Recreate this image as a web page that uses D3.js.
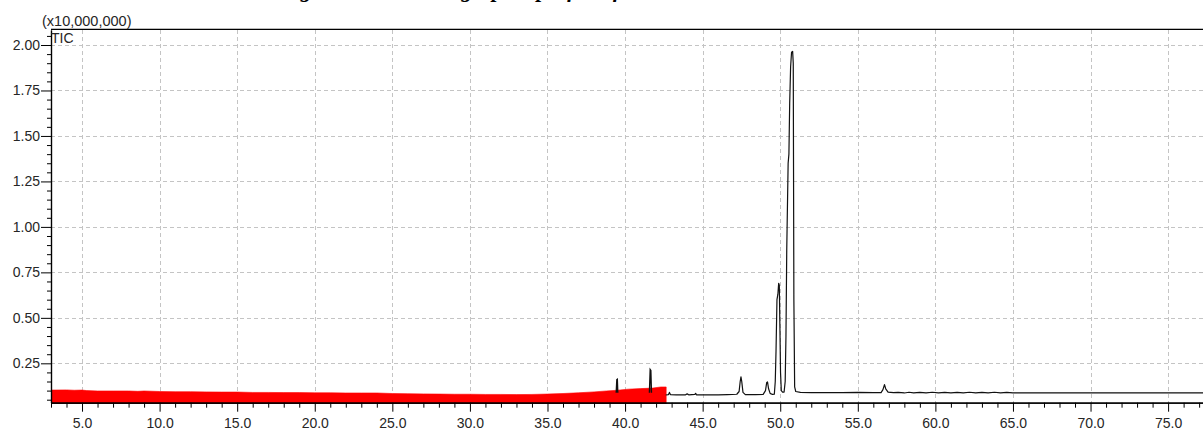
<!DOCTYPE html>
<html><head><meta charset="utf-8">
<script src="https://cdn.jsdelivr.net/npm/d3@7"></script>
<style>body{margin:0;background:#fff;overflow:hidden} svg{display:block}</style>
</head><body><svg id="c" width="1203" height="432"></svg>
<script>
// ---------- data ----------
const titleText = "Figure 1. Chromatographic profile of the extract";
const yMultiplier = "(x10,000,000)";
const seriesLabel = "TIC";
const xMajorTicks = [5,10,15,20,25,30,35,40,45,50,55,60,65,70,75];
const yMajorTicks = [0.25,0.5,0.75,1.0,1.25,1.5,1.75,2.0];

// red noisy trace (upper envelope), retention time (min) vs intensity (x10^7)
const redTime = [3.0,4.0,4.5,5.0,5.3,6.0,7.0,8.0,8.6,9.0,10,11,12,13,14,15,16,17,18,19,20,21,22,23,24,25,26,27,28,29,30,31,32,33,34,35,36,37,38,38.8,39.5,40.2,41.0,41.8,42.3,42.65];
const redTop  = [0.103,0.104,0.102,0.103,0.100,0.098,0.098,0.098,0.096,0.098,0.095,0.094,0.094,0.093,0.092,0.092,0.090,0.090,0.089,0.089,0.088,0.088,0.087,0.087,0.087,0.084,0.083,0.082,0.081,0.080,0.080,0.079,0.079,0.078,0.079,0.081,0.084,0.088,0.093,0.098,0.102,0.108,0.111,0.114,0.120,0.120];

// black TIC trace
const ticTime = [42.62,42.8,42.86,42.92,43.3,43.9,44.0,44.1,44.5,44.55,44.6,45.2,46.0,46.6,47.2,47.35,47.42,47.47,47.52,47.6,47.75,48.4,48.9,49.05,49.13,49.18,49.25,49.35,49.5,49.62,49.68,49.73,49.79,49.85,49.9,49.94,49.98,50.02,50.07,50.15,50.25,50.32,50.37,50.42,50.51,50.56,50.61,50.67,50.73,50.8,50.84,50.88,50.93,51.0,51.3,52,53,54,55,56,56.5,56.62,56.72,56.8,56.95,57.3,57.6,58.0,58.3,58.6,59.0,59.4,59.8,60.2,60.6,61.0,61.4,61.8,62.2,62.6,63.0,63.4,63.8,64.2,64.6,65.0,65.3,66,70,77.7];
const ticValue = [0.076,0.078,0.090,0.078,0.076,0.077,0.082,0.077,0.079,0.085,0.077,0.076,0.077,0.078,0.080,0.095,0.150,0.175,0.150,0.090,0.078,0.078,0.079,0.100,0.145,0.148,0.110,0.085,0.079,0.080,0.150,0.320,0.600,0.630,0.690,0.680,0.450,0.200,0.100,0.092,0.092,0.150,0.400,0.870,1.350,1.400,1.680,1.880,1.960,1.965,1.900,0.600,0.120,0.095,0.090,0.089,0.089,0.089,0.090,0.089,0.089,0.105,0.133,0.110,0.092,0.089,0.090,0.087,0.091,0.088,0.090,0.087,0.091,0.088,0.090,0.087,0.090,0.088,0.091,0.087,0.090,0.088,0.091,0.088,0.090,0.088,0.087,0.087,0.087,0.087];

// black spikes standing out of the red trace
const spikeATime = [39.43,39.47,39.50,39.53];
const spikeAValue = [0.088,0.160,0.162,0.088];
const spikeBTime = [41.57,41.62,41.66,41.70];
const spikeBValue = [0.088,0.215,0.210,0.088];

// ---------- layout ----------
const svg = d3.select("#c");
const L = 51, T = 30, B = 402.7, R = 1210;
const x = d3.scaleLinear().domain([3.0, 77.7]).range([L, R]);
const y = d3.scaleLinear().domain([0.0335, 2.0825]).range([B, T]);
const font = "'Liberation Sans', Arial, sans-serif";

// title (cropped at the top of the picture, as in the reference)
svg.append("text").attr("x", 280).attr("y", -3)
  .attr("font-family", "'Liberation Serif', 'Times New Roman', serif")
  .attr("font-weight", "bold").attr("font-style", "italic").attr("font-size", 22)
  .attr("fill", "#000").text(titleText);

svg.append("defs").append("clipPath").attr("id", "plot")
  .append("rect").attr("x", L).attr("y", T).attr("width", R - L).attr("height", B - T + 1.2);

// grid
const grid = svg.append("g").attr("stroke", "#c4c4c4").attr("stroke-width", 1).attr("stroke-dasharray", "4,3");
grid.selectAll("line.v").data(xMajorTicks).join("line")
  .attr("x1", d => Math.round(x(d)) + 0.5).attr("x2", d => Math.round(x(d)) + 0.5)
  .attr("y1", T).attr("y2", B);
grid.selectAll("line.h").data(yMajorTicks).join("line")
  .attr("x1", L).attr("x2", R)
  .attr("y1", d => Math.round(y(d)) + 0.5).attr("y2", d => Math.round(y(d)) + 0.5);

const plot = svg.append("g").attr("clip-path", "url(#plot)");

// red trace
const redData = redTime.map((t, i) => [t, redTop[i]]);
plot.append("path").datum(redData)
  .attr("fill", "#ff0000").attr("stroke", "#ff0000").attr("stroke-width", 0.6)
  .attr("d", d3.area().x(d => x(d[0])).y0(B + 1.2).y1(d => y(d[1])));

// black trace
const line = d3.line().x(d => x(d[0])).y(d => y(d[1]));
const ticData = ticTime.map((t, i) => [t, ticValue[i]]);
plot.append("path").datum(ticData).attr("fill", "none")
  .attr("stroke", "#111").attr("stroke-width", 1.2).attr("stroke-linejoin", "round").attr("d", line);
[[spikeATime, spikeAValue], [spikeBTime, spikeBValue]].forEach(([ts, vs]) => {
  plot.append("path").datum(ts.map((t, i) => [t, vs[i]])).attr("fill", "none")
    .attr("stroke", "#111").attr("stroke-width", 1.4).attr("d", line);
});

// top border
svg.append("line").attr("x1", L).attr("x2", R).attr("y1", T - 1.5).attr("y2", T - 1.5).attr("stroke", "#bbb");
svg.append("line").attr("x1", L).attr("x2", R).attr("y1", T - 0.5).attr("y2", T - 0.5).attr("stroke", "#000");

// axes
const xMinor = d3.range(3, 78, 1).filter(v => v % 5 !== 0);
const yMinor = d3.range(1, 42).map(i => +(i * 0.05).toFixed(2)).filter(v => Math.abs(v / 0.25 - Math.round(v / 0.25)) > 1e-6);

const xAxisMinor = svg.append("g").attr("transform", `translate(0,${B})`)
  .call(d3.axisBottom(x).tickValues(xMinor).tickSize(5).tickSizeOuter(0).tickFormat(""));
const xAxis = svg.append("g").attr("transform", `translate(0,${B})`)
  .call(d3.axisBottom(x).tickValues(xMajorTicks).tickSize(9).tickSizeOuter(0).tickPadding(6).tickFormat(d3.format(".1f")));
const yAxisMinor = svg.append("g").attr("transform", `translate(${L},0)`)
  .call(d3.axisLeft(y).tickValues(yMinor).tickSize(4).tickSizeOuter(0).tickFormat(""));
const yAxis = svg.append("g").attr("transform", `translate(${L},0)`)
  .call(d3.axisLeft(y).tickValues(yMajorTicks).tickSize(10).tickSizeOuter(0).tickPadding(1).tickFormat(d3.format(".2f")));

[xAxisMinor, xAxis, yAxisMinor, yAxis].forEach(g => {
  g.selectAll("path.domain").attr("stroke", "#000").attr("stroke-width", 1.2);
  g.selectAll(".tick line").attr("stroke", "#000");
  g.selectAll("text").attr("font-family", font).attr("font-size", 14).attr("fill", "#262626");
});

svg.append("text").attr("x", 42).attr("y", 26).attr("font-family", font).attr("font-size", 14.5)
  .attr("fill", "#262626").text(yMultiplier);
svg.append("text").attr("x", 51).attr("y", 43).attr("font-family", font).attr("font-size", 14)
  .attr("fill", "#262626").text(seriesLabel);
</script></body></html>
